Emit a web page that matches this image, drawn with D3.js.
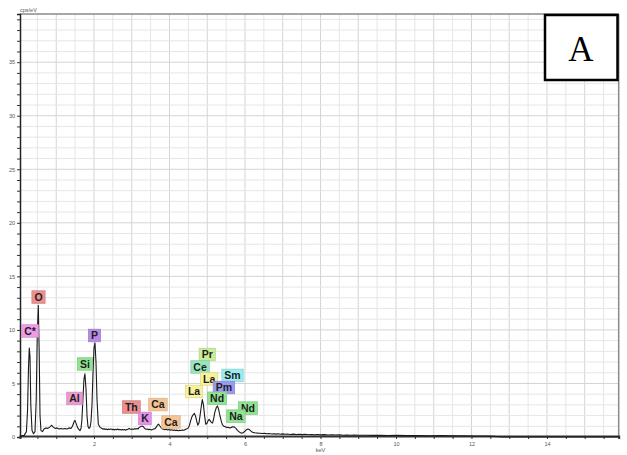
<!DOCTYPE html>
<html>
<head>
<meta charset="utf-8">
<script src="https://cdn.jsdelivr.net/npm/d3@7"></script>
<style>
  html, body { margin: 0; padding: 0; background: #fff; }
  svg { display: block; }
</style>
</head>
<body>
<svg id="chart" width="627" height="455"></svg>
<script>
// EDS spectrum: energy (keV) and intensity (cps/eV)
const energy = [
  0.04, 0.15, 0.21, 0.24, 0.265, 0.286, 0.305, 0.326, 0.358, 0.397,
  0.437, 0.47, 0.497, 0.525, 0.548, 0.57, 0.596, 0.636, 0.675, 0.728,
  0.78, 0.834, 0.88, 0.914, 0.967, 1.02, 1.07, 1.126, 1.18, 1.23,
  1.285, 1.34, 1.39, 1.43, 1.47, 1.497, 1.523, 1.563, 1.6, 1.63,
  1.656, 1.68, 1.71, 1.735, 1.76, 1.788, 1.815, 1.84, 1.87, 1.894,
  1.92, 1.947, 1.974, 2.0, 2.026, 2.053, 2.08, 2.114, 2.159,
  2.21, 2.24, 2.27, 2.30, 2.33, 2.36, 2.39, 2.42, 2.45, 2.48,
  2.51, 2.54, 2.57, 2.60, 2.63, 2.66, 2.69, 2.72, 2.75, 2.78,
  2.81, 2.84, 2.87, 2.90, 2.93, 2.96, 2.99, 3.02, 3.05, 3.08,
  3.11, 3.14, 3.17, 3.2, 3.24, 3.27, 3.31, 3.35, 3.38, 3.42,
  3.45, 3.48, 3.52, 3.55, 3.58, 3.62, 3.65, 3.68, 3.71, 3.74,
  3.78, 3.81, 3.85, 3.88, 3.92, 3.95, 3.99, 4.02, 4.06, 4.09,
  4.13, 4.16, 4.2, 4.23, 4.27, 4.3, 4.34, 4.38, 4.42, 4.46,
  4.5, 4.53, 4.56, 4.59, 4.62, 4.66, 4.69, 4.72, 4.75, 4.78,
  4.81, 4.84, 4.87, 4.9, 4.93, 4.96, 4.99, 5.02, 5.05, 5.08,
  5.11, 5.14, 5.17, 5.2, 5.24, 5.27, 5.3, 5.33, 5.37, 5.4,
  5.44, 5.48, 5.52, 5.56, 5.6, 5.64, 5.68, 5.72, 5.76, 5.8,
  5.84, 5.88, 5.92, 5.96, 6.0, 6.04, 6.08, 6.12, 6.16, 6.2,
  6.25, 6.3, 6.35, 6.4, 6.46, 6.52, 6.58, 6.64, 6.7, 6.76,
  6.82, 6.88, 6.94, 7.0, 7.06, 7.12, 7.2, 7.28, 7.36, 7.44,
  7.52, 7.6, 7.68, 7.76, 7.84, 7.92, 8.0, 8.1, 8.2, 8.3,
  8.4, 8.5, 8.6, 8.7, 8.8, 8.9, 9.0, 9.2, 9.4, 9.6,
  9.8, 10.0, 10.3, 10.6, 10.9, 11.2, 11.5, 11.8, 12.1, 12.4,
  12.6, 12.8, 15.9
];
const counts = [
  0.1, 0.15, 0.5, 2.5, 6.5, 8.3, 7.5, 3.0, 0.6, 0.3,
  0.5, 3.5, 9.5, 12.3, 8.0, 2.0, 0.6, 0.5, 0.75, 0.85,
  0.8, 0.95, 1.1, 0.95, 0.8, 0.85, 0.75, 0.8, 0.75, 0.8,
  0.75, 0.85, 0.8, 1.0, 1.4, 1.55, 1.3, 0.9, 0.7, 0.6,
  0.8, 1.6, 3.8, 5.4, 5.9, 4.5, 2.0, 1.0, 0.8, 0.9,
  1.4, 3.0, 6.0, 8.3, 8.8, 7.0, 3.5, 1.2, 0.9,
  0.8, 0.72, 0.78, 0.7, 0.75, 0.68, 0.74, 0.7, 0.76, 0.69,
  0.73, 0.66, 0.72, 0.68, 0.74, 0.67, 0.7, 0.65, 0.71, 0.66,
  0.7, 0.64, 0.69, 0.72, 0.8, 0.74, 0.7, 0.75, 0.72, 0.78,
  0.74, 0.8, 0.76, 0.9, 0.98, 1.02, 0.95, 0.78, 0.72, 0.75,
  0.68, 0.72, 0.66, 0.7, 0.74, 0.78, 0.92, 1.1, 1.2, 1.05,
  0.86, 0.76, 0.72, 0.68, 0.72, 0.66, 0.7, 0.64, 0.68, 0.62,
  0.66, 0.6, 0.64, 0.58, 0.62, 0.6, 0.66, 0.63, 0.7, 0.76,
  0.85, 1.1, 1.5, 1.85, 2.05, 2.2, 1.95, 1.5, 1.1, 1.3,
  2.0, 2.8, 3.5, 3.0, 2.0, 1.2, 1.25, 1.5, 1.65, 1.5,
  1.35, 1.3, 1.7, 2.3, 2.75, 2.9, 2.6, 2.1, 1.5, 1.15,
  1.0, 0.95, 0.88, 0.9, 0.85, 0.9, 0.95, 0.92, 0.8, 0.62,
  0.5, 0.4, 0.36, 0.42, 0.55, 0.68, 0.75, 0.68, 0.55, 0.45,
  0.4, 0.38, 0.36, 0.35, 0.32, 0.34, 0.3, 0.32, 0.28, 0.31,
  0.27, 0.3, 0.26, 0.29, 0.25, 0.28, 0.24, 0.27, 0.23, 0.26,
  0.22, 0.25, 0.21, 0.24, 0.2, 0.23, 0.2, 0.22, 0.19, 0.21,
  0.18, 0.2, 0.17, 0.19, 0.16, 0.18, 0.16, 0.17, 0.15, 0.16,
  0.14, 0.15, 0.13, 0.14, 0.12, 0.13, 0.11, 0.12, 0.1, 0.1,
  0.06, 0.0, 0.0
];

// Element annotations: symbol, energy position (keV), height (cps/eV), fill
const labelNames   = ["O", "C*", "P", "Si", "Al", "Th", "K", "Ca", "Ca", "La", "Pr", "Ce", "La", "Sm", "Pm", "Nd", "Nd", "Na"];
const labelEnergy  = [0.53, 0.305, 2.013, 1.76, 1.483, 2.99, 3.35, 3.695, 4.04, 4.65, 5.0, 4.81, 5.05, 5.67, 5.44, 5.26, 6.08, 5.76];
const labelLevel   = [13.07, 9.9, 9.48, 6.82, 3.6, 2.8, 1.73, 3.03, 1.4, 4.25, 7.7, 6.54, 5.42, 5.75, 4.62, 3.62, 2.7, 1.95];
const labelColors  = ["#ec9090", "#ee9be8", "#b68ae6", "#92e294", "#ec9ad2", "#ec9090", "#e690ea", "#f6c596", "#f6c596", "#f8f29c",
                      "#c8ee98", "#98e6bc", "#f8f29c", "#9aecf0", "#9c9af0", "#92e294", "#92e294", "#92e294"];

// Axis ticks
const xTickValues = [2, 4, 6, 8, 10, 12, 14];
const yTickValues = [0, 5, 10, 15, 20, 25, 30, 35];

const svg = d3.select("#chart");
const plotLeft = 20, plotRight = 618.7, plotTop = 14, plotBottom = 437;

const x = d3.scaleLinear().domain([0.04, 15.9]).range([plotLeft, plotRight]);
const y = d3.scaleLinear().domain([0, 39.5]).range([plotBottom, plotTop]);

// Grid: every 0.5 keV and every 1 cps/eV
const gx = d3.range(0.5, 15.9, 0.5);
const gy = d3.range(1, 39.5, 1);
const grid = svg.append("g");
grid.selectAll("line.gx").data(gx).join("line")
  .attr("x1", d => x(d)).attr("x2", d => x(d))
  .attr("y1", plotTop).attr("y2", plotBottom)
  .attr("stroke", d => Number.isInteger(d) ? "#d4d4d4" : "#e6e6e6")
  .attr("stroke-width", 1);
grid.selectAll("line.gy").data(gy).join("line")
  .attr("x1", plotLeft).attr("x2", plotRight)
  .attr("y1", d => y(d)).attr("y2", d => y(d))
  .attr("stroke", d => d % 5 === 0 ? "#d4d4d4" : "#e6e6e6")
  .attr("stroke-width", 1);

// Frame
svg.append("line").attr("x1", plotLeft).attr("x2", plotRight).attr("y1", plotTop).attr("y2", plotTop)
  .attr("stroke", "#8a8a8a").attr("stroke-width", 1.5);
svg.append("line").attr("x1", plotRight).attr("x2", plotRight).attr("y1", plotTop).attr("y2", plotBottom)
  .attr("stroke", "#8a8a8a").attr("stroke-width", 1.5);

// Y axis
const yAxis = d3.axisLeft(y).tickValues(d3.range(0, 40, 1)).tickSize(3)
  .tickFormat(d => yTickValues.includes(d) ? d : "");
const gY = svg.append("g").attr("transform", `translate(${plotLeft},0)`).call(yAxis);
gY.select(".domain").attr("stroke", "#222").attr("stroke-width", 1.5);
gY.selectAll(".tick line").attr("stroke", "#333");
gY.selectAll(".tick text").attr("font-family", "Liberation Sans, Arial, sans-serif")
  .attr("font-size", 5.5).attr("fill", "#555").attr("x", -5);

// X axis
const xAxis = d3.axisBottom(x).tickValues(d3.range(0.5, 15.9, 0.5)).tickSize(3)
  .tickFormat(d => xTickValues.includes(d) ? d : "");
const gX = svg.append("g").attr("transform", `translate(0,${plotBottom - 1})`).call(xAxis);
gX.select(".domain").attr("stroke", "#333").attr("stroke-width", 2);
gX.selectAll(".tick line").attr("stroke", "#333");
gX.selectAll(".tick text").attr("font-family", "Liberation Sans, Arial, sans-serif")
  .attr("font-size", 5.5).attr("fill", "#555").attr("y", 6);

svg.append("text").attr("x", x(8)).attr("y", 452).attr("text-anchor", "middle")
  .attr("font-family", "Liberation Sans, Arial, sans-serif").attr("font-size", 5.5).attr("fill", "#555")
  .text("keV");
svg.append("text").attr("x", plotLeft).attr("y", 12)
  .attr("font-family", "Liberation Sans, Arial, sans-serif").attr("font-size", 5.5).attr("fill", "#555")
  .text("cps/eV");

// Spectrum
const spectrum = energy.map((e, i) => [e, counts[i]]);
svg.append("path").datum(spectrum)
  .attr("fill", "none").attr("stroke", "#1a1a1a").attr("stroke-width", 1.1)
  .attr("stroke-linejoin", "round")
  .attr("d", d3.line().x(d => x(d[0])).y(d => y(d[1])));

// Element labels
const labels = svg.append("g");
labelNames.forEach((name, i) => {
  const g = labels.append("g")
    .attr("transform", `translate(${x(labelEnergy[i])},${y(labelLevel[i])})`);
  const rect = g.append("rect");
  const t = g.append("text").text(name)
    .attr("text-anchor", "middle").attr("dy", "0.36em")
    .attr("font-family", "Liberation Sans, Arial, sans-serif")
    .attr("font-weight", "bold").attr("font-size", 10.5).attr("fill", "#1e1e1e");
  const w = t.node().getComputedTextLength() + 5;
  const h = 12.5;
  rect.attr("x", -w / 2).attr("y", -h / 2).attr("width", w).attr("height", h)
    .attr("fill", labelColors[i])
    .attr("stroke", d3.color(labelColors[i]).darker(0.3)).attr("stroke-width", 0.8);
});

// Panel letter
svg.append("rect").attr("x", 545).attr("y", 15).attr("width", 72.5).attr("height", 65)
  .attr("fill", "#fff").attr("stroke", "#000").attr("stroke-width", 2.5);
svg.append("text").attr("x", 581).attr("y", 61).attr("text-anchor", "middle")
  .attr("font-family", "Liberation Serif, Times New Roman, serif").attr("font-size", 35)
  .attr("fill", "#000").text("A");
</script>
</body>
</html>
